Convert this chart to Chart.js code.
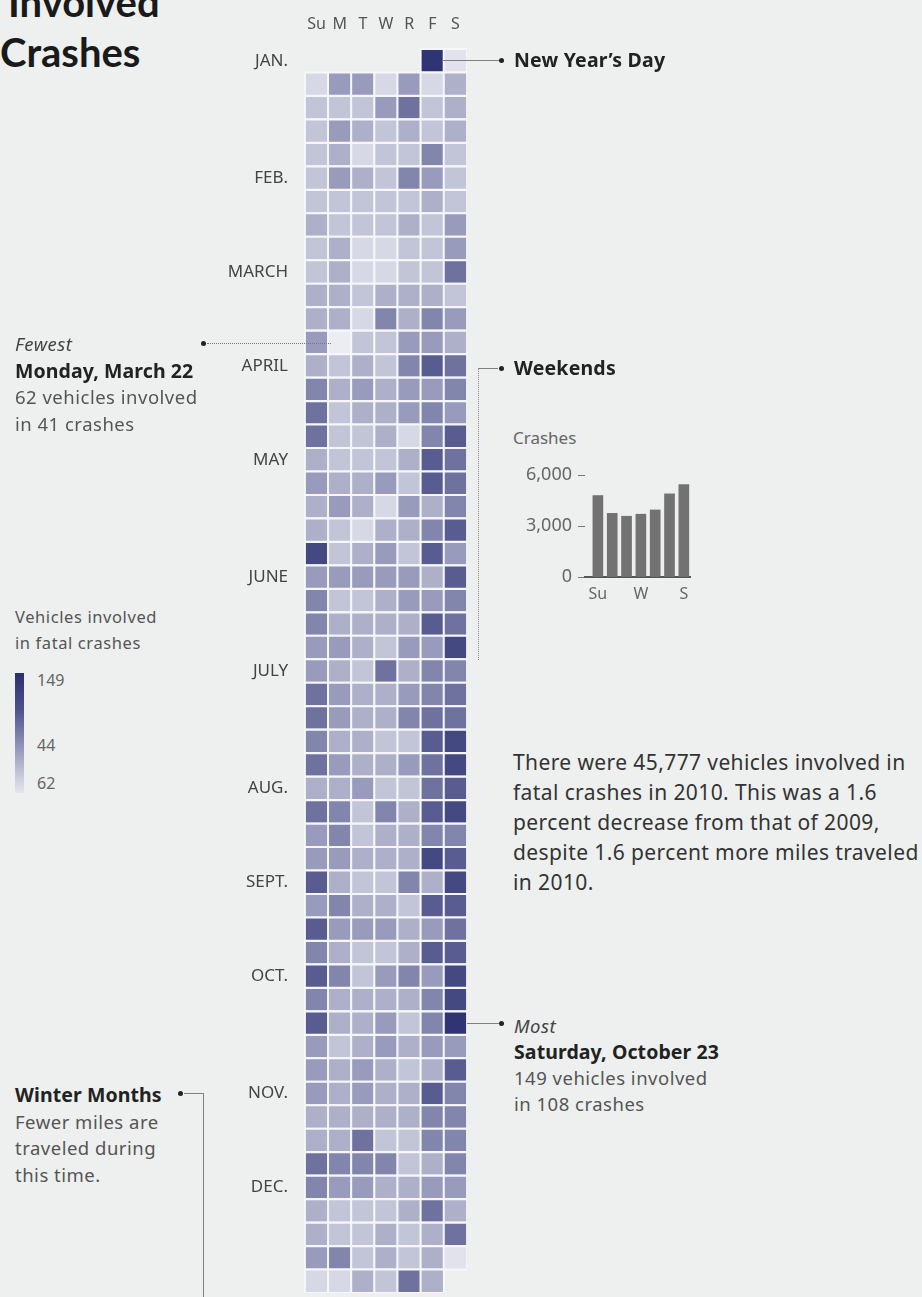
<!DOCTYPE html>
<html>
<head>
<meta charset="utf-8">
<script src="https://cdn.jsdelivr.net/npm/chart.js@4.4.0/dist/chart.umd.min.js"></script>
<style>
  body { margin: 0; background: #edf0ee; font-family: "Noto Sans", Lato, sans-serif; color: #333; }
  #page { position: relative; width: 922px; height: 1297px; overflow: hidden; }
  .abs { position: absolute; white-space: nowrap; }
  .line { position: absolute; background: #808080; }
  .dot { position: absolute; width: 5px; height: 5px; border-radius: 50%; background: #222; }
  .title { position: absolute; font-family: Lato, sans-serif; font-size: 40px; line-height: 50px; font-weight: 700; color: #1a1a1a; white-space: nowrap; }
  .note { font-size: 18.5px; line-height: 26.7px; color: #555; letter-spacing: 0.5px; }
  .note b { color: #222; font-size: 19.5px; letter-spacing: 0.1px; }
  .note i { color: #444; }
  .head { font-size: 19.5px; font-weight: 700; color: #222; line-height: 24px; letter-spacing: 0.2px; }
</style>
</head>
<body>
<div id="page">
  <div class="title" style="left:8px; top:-23px;">Involved</div>
  <div class="title" style="left:0; top:27px;">Crashes</div>

  <canvas id="calendar" width="267" height="1293" style="position:absolute; left:200px; top:0;"></canvas>
  <canvas id="bars" width="211" height="145" style="position:absolute; left:480px; top:465px;"></canvas>

  <!-- New Year's Day -->
  <div class="line" style="left:442px; top:60px; width:57px; height:1px;"></div>
  <div class="dot" style="left:499px; top:58px;"></div>
  <div class="abs head" style="left:514px; top:48px;">New Year’s Day</div>

  <!-- Fewest -->
  <div class="line" style="left:207px; top:343px; width:124px; height:0; background:none; border-top:1px dotted #777;"></div>
  <div class="dot" style="left:201px; top:341px;"></div>
  <div class="abs note" style="left:15px; top:331px;"><i>Fewest</i><br><b>Monday, March 22</b><br>62 vehicles involved<br>in 41 crashes</div>

  <!-- Weekends -->
  <div class="line" style="left:478px; top:368px; width:20px; height:1px;"></div>
  <div class="line" style="left:478px; top:368px; width:0; height:292px; background:none; border-left:1px dotted #888;"></div>
  <div class="dot" style="left:499px; top:366px;"></div>
  <div class="abs head" style="left:514px; top:356px;">Weekends</div>
  <div class="abs" style="left:513px; top:427px; line-height:22px; font-size:17px; color:#666;">Crashes</div>

  <!-- Legend -->
  <div class="abs" style="left:15px; top:604px; line-height:26px; font-size:16.5px; letter-spacing:0.6px; color:#555;">Vehicles involved<br>in fatal crashes</div>
  <div class="abs" style="left:15px; top:673px; width:9px; height:120px; background:linear-gradient(to bottom,#2c2f6c 0%,#4d518b 30%,#8a8db5 58%,#c6c8da 85%,#e4e5ee 100%);"></div>
  <div class="abs" style="left:37px; top:670px; line-height:20px; font-size:16px; color:#666;">149</div>
  <div class="abs" style="left:37px; top:735px; line-height:20px; font-size:16px; color:#666;">44</div>
  <div class="abs" style="left:37px; top:773px; line-height:20px; font-size:16px; color:#666;">62</div>

  <!-- Summary -->
  <div class="abs" style="left:513px; top:747px; line-height:30px; font-size:21px; letter-spacing:0.4px; color:#333;">There were 45,777 vehicles involved in<br>fatal crashes in 2010. This was a 1.6<br>percent decrease from that of 2009,<br>despite 1.6 percent more miles traveled<br>in 2010.</div>

  <!-- Most -->
  <div class="line" style="left:467px; top:1023px; width:32px; height:1px;"></div>
  <div class="dot" style="left:499px; top:1021px;"></div>
  <div class="abs note" style="left:514px; top:1013px; line-height:26px;"><i>Most</i><br><b>Saturday, October 23</b><br>149 vehicles involved<br>in 108 crashes</div>

  <!-- Winter -->
  <div class="dot" style="left:178px; top:1091px;"></div>
  <div class="line" style="left:184px; top:1093px; width:19px; height:1px;"></div>
  <div class="line" style="left:203px; top:1093px; width:1px; height:210px;"></div>
  <div class="abs note" style="left:15px; top:1082px;"><b>Winter Months</b><br>Fewer miles are<br>traveled during<br>this time.</div>
</div>

<script>
var dayLabels = ["Su", "M", "T", "W", "R", "F", "S"];
var monthLabels = ["JAN.", "FEB.", "MARCH", "APRIL", "MAY", "JUNE", "JULY", "AUG.", "SEPT.", "OCT.", "NOV.", "DEC."];

// vehicles involved in fatal crashes, per day of 2010
var jan = [149, 83, 91, 120, 120, 91, 120, 91, 112, 103, 103, 103, 120, 133, 103, 112, 103, 120, 112, 103, 112, 103, 112, 103, 112, 91, 103, 103, 127, 103, 103];
var feb = [120, 112, 103, 127, 120, 103, 103, 103, 103, 103, 103, 112, 103, 112, 103, 103, 103, 112, 103, 120, 103, 112, 91, 91, 103, 103, 120, 103];
var mar = [112, 91, 91, 103, 103, 133, 112, 112, 103, 112, 112, 112, 103, 112, 112, 91, 127, 112, 127, 120, 120, 62, 103, 103, 120, 120, 112, 112, 103, 112, 103];
var apr = [127, 139, 133, 127, 112, 120, 112, 120, 120, 127, 133, 103, 112, 112, 120, 127, 120, 133, 103, 103, 112, 91, 127, 139, 112, 103, 103, 103, 112, 139];
var may = [133, 120, 112, 112, 120, 103, 139, 133, 112, 120, 112, 91, 120, 112, 127, 112, 103, 91, 112, 112, 127, 139, 144, 103, 112, 120, 103, 139, 120, 120, 120];
var jun = [120, 120, 120, 112, 139, 127, 103, 103, 112, 120, 120, 127, 127, 112, 112, 112, 112, 139, 133, 120, 120, 112, 103, 120, 120, 144, 120, 112, 103, 133];
var jul = [112, 127, 127, 133, 120, 112, 112, 120, 127, 133, 133, 120, 112, 112, 127, 133, 133, 127, 112, 112, 103, 103, 139, 144, 133, 120, 112, 112, 120, 133, 144];
var aug = [112, 112, 120, 103, 103, 133, 139, 133, 127, 103, 127, 112, 139, 144, 120, 127, 103, 112, 112, 127, 127, 120, 120, 112, 112, 112, 144, 139, 139, 112, 103];
var sep = [103, 127, 112, 144, 120, 127, 112, 112, 103, 139, 139, 139, 120, 120, 120, 112, 120, 133, 127, 112, 103, 103, 112, 139, 139, 139, 127, 103, 120, 127];
var oct = [120, 144, 127, 112, 112, 112, 112, 127, 144, 139, 112, 112, 120, 103, 127, 149, 120, 103, 112, 120, 112, 120, 120, 120, 112, 120, 112, 103, 112, 139, 120];
var nov = [112, 120, 112, 112, 139, 127, 112, 112, 112, 112, 112, 127, 127, 112, 112, 133, 103, 103, 127, 127, 133, 127, 127, 127, 103, 112, 127, 127, 120, 120];
var dec = [112, 112, 120, 120, 112, 103, 103, 103, 112, 133, 112, 112, 103, 103, 112, 103, 112, 133, 120, 127, 103, 112, 103, 112, 83, 91, 91, 112, 103, 133, 112];

// crashes by day of week (small bar chart)
var crashesByDay = [4800, 3750, 3580, 3700, 3950, 4900, 5450];
var crashTicks = [0, 3000, 6000];
var crashDayTicks = [0, 3, 6];

var minVehicles = 62, maxVehicles = 149;
var months = [jan, feb, mar, apr, may, jun, jul, aug, sep, oct, nov, dec];

var cells = [];
var monthRows = [];
var firstWeekday = new Date(2010, 0, 1).getDay();
var dayOfYear = 0;
months.forEach(function (values, m) {
	values.forEach(function (v, d) {
		var date = new Date(2010, m, d + 1);
		var row = Math.floor((dayOfYear + firstWeekday) / 7);
		if (d === 0) monthRows.push(row);
		cells.push({ x: date.getDay(), y: row, v: v });
		dayOfYear++;
	});
});

function cellColor(v) {
	var t = Math.pow((v - minVehicles) / (maxVehicles - minVehicles), 2);
	var light = [236, 237, 243], dark = [48, 52, 116];
	var c = light.map(function (l, i) { return Math.round(l + (dark[i] - l) * t); });
	return "rgb(" + c.join(",") + ")";
}

// no extra label padding: keep the plot area where the grid is
function noPadding(s) {
	s.paddingLeft = 0;
	s.paddingRight = 0;
	s.paddingTop = 0;
	s.paddingBottom = 0;
}

Chart.defaults.font.family = "'Noto Sans', Lato, sans-serif";

var calendarChart = new Chart(document.getElementById("calendar"), {
	type: "scatter",
	data: {
		datasets: [{
			data: cells,
			clip: false,
			pointStyle: "rect",
			pointRadius: 16.5,
			pointHoverRadius: 16.5,
			pointBorderWidth: 2,
			pointBorderColor: "#f6f7fa",
			pointBackgroundColor: function (ctx) { return cellColor(ctx.raw.v); }
		}]
	},
	options: {
		responsive: false,
		animation: false,
		events: [],
		layout: { padding: 0, autoPadding: false },
		plugins: { legend: { display: false }, tooltip: { enabled: false } },
		scales: {
			x: {
				type: "linear",
				position: "top",
				min: -0.5,
				max: 6.5,
				grid: { display: false, drawTicks: false },
				border: { display: false },
				afterBuildTicks: function (s) { s.ticks = dayLabels.map(function (d, i) { return { value: i }; }); },
				afterFit: function (s) { s.height = 49; noPadding(s); },
				ticks: {
					autoSkip: false,
					maxRotation: 0,
					padding: 15,
					color: "#555",
					font: { size: 16 },
					callback: function (v) { return dayLabels[v]; }
				}
			},
			y: {
				type: "linear",
				reverse: true,
				min: -0.5,
				max: 52.5,
				grid: { display: false, drawTicks: false },
				border: { display: false },
				afterBuildTicks: function (s) { s.ticks = monthRows.map(function (r) { return { value: r }; }); },
				afterFit: function (s) { s.width = 105; noPadding(s); },
				ticks: {
					autoSkip: false,
					padding: 17,
					color: "#444",
					font: { size: 17 },
					callback: function (v, i) { return monthLabels[i]; }
				}
			}
		}
	}
});

var barChart = new Chart(document.getElementById("bars"), {
	type: "bar",
	data: {
		datasets: [{
			data: crashesByDay.map(function (c, i) { return { x: i, y: c }; }),
			backgroundColor: "#727272",
			barThickness: 10
		}]
	},
	options: {
		responsive: false,
		animation: false,
		events: [],
		layout: { padding: 0, autoPadding: false },
		plugins: { legend: { display: false }, tooltip: { enabled: false } },
		scales: {
			x: {
				type: "linear",
				offset: false,
				min: -0.9,
				max: 6.5,
				grid: { display: false, drawTicks: false },
				border: { color: "#555", width: 2 },
				afterBuildTicks: function (s) { s.ticks = crashDayTicks.map(function (v) { return { value: v }; }); },
				afterFit: function (s) { s.height = 33; noPadding(s); },
				ticks: {
					autoSkip: false,
					maxRotation: 0,
					padding: 8,
					color: "#666",
					font: { size: 16 },
					callback: function (v) { return dayLabels[v]; }
				}
			},
			y: {
				min: 0,
				max: 6600,
				grid: { drawOnChartArea: false, drawTicks: true, tickLength: 7, color: "#777" },
				border: { display: false },
				afterBuildTicks: function (s) { s.ticks = crashTicks.map(function (v) { return { value: v }; }); },
				afterFit: function (s) { s.width = 105; noPadding(s); },
				ticks: {
					padding: 6,
					color: "#666",
					font: { size: 18 },
					callback: function (v) { return v.toLocaleString("en-US"); }
				}
			}
		}
	}
});
</script>
</body>
</html>
